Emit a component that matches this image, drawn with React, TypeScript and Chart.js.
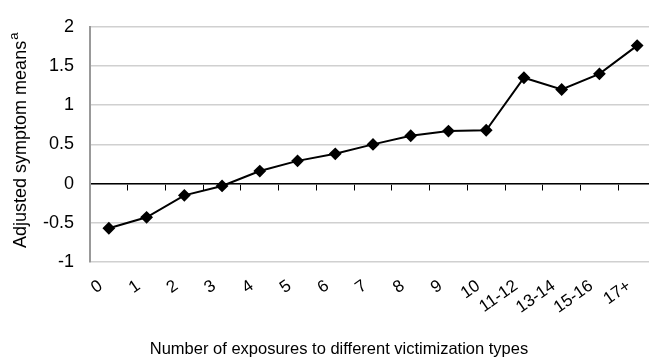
import React, { useEffect, useRef } from 'react';
import { Chart, registerables } from 'chart.js';

Chart.register(...registerables);

const categories = ['0', '1', '2', '3', '4', '5', '6', '7', '8', '9', '10', '11-12', '13-14', '15-16', '17+'];
const symptomMeans = [-0.57, -0.43, -0.15, -0.03, 0.16, 0.29, 0.38, 0.5, 0.61, 0.67, 0.68, 1.35, 1.2, 1.4, 1.76];
const yMin = -1;
const yMax = 2;
const yStep = 0.5;
const xTitle = 'Number of exposures to different victimization types';
const yTitle = 'Adjusted symptom means';
const yTitleSup = 'a';

const FONT = "'Liberation Sans', Arial, sans-serif";

const titlesPlugin = {
  id: 'axisTitles',
  afterDraw(chart: any) {
    const { ctx, chartArea } = chart;
    ctx.save();
    ctx.fillStyle = '#000';
    ctx.font = `16.5px ${FONT}`;
    ctx.textAlign = 'center';
    ctx.textBaseline = 'alphabetic';
    ctx.fillText(xTitle, 339, 354);

    const cy = (chartArea.top + chartArea.bottom) / 2;
    ctx.translate(26, cy);
    ctx.rotate(-Math.PI / 2);
    ctx.font = `18px ${FONT}`;
    const w = ctx.measureText(yTitle).width;
    ctx.textAlign = 'left';
    ctx.fillText(yTitle, -w / 2, 0);
    ctx.font = `13px ${FONT}`;
    ctx.fillText(yTitleSup, w / 2 + 1, -8);
    ctx.restore();
  },
};

export default function App() {
  const ref = useRef<HTMLCanvasElement | null>(null);

  useEffect(() => {
    if (!ref.current) return;
    const chart = new Chart(ref.current, {
      type: 'line',
      data: {
        labels: categories,
        datasets: [
          {
            data: symptomMeans,
            borderColor: '#000',
            borderWidth: 2,
            pointStyle: 'rectRot',
            pointRadius: 5,
            pointBackgroundColor: '#000',
            pointBorderColor: '#000',
            tension: 0,
            xAxisID: 'x',
            yAxisID: 'y',
          },
        ],
      },
      options: {
        responsive: false,
        animation: false,
        layout: { padding: { top: 20, right: 14, bottom: 0, left: 0 } },
        plugins: { legend: { display: false }, tooltip: { enabled: false } },
        scales: {
          x: {
            type: 'category',
            position: 'bottom',
            offset: true,
            grid: { display: false, drawTicks: false },
            border: { display: false },
            ticks: {
              font: { family: FONT, size: 17 },
              color: '#000',
              maxRotation: 35,
              minRotation: 35,
              padding: 14,
              labelOffset: -8,
              autoSkip: false,
            },
            afterFit: (s: any) => {
              s.height = 99;
            },
          },
          x0: {
            type: 'category',
            position: { y: 0 },
            offset: true,
            grid: { drawOnChartArea: false, drawTicks: true, tickLength: 6, color: '#000', offset: true },
            border: { color: '#000', width: 1.5 },
            ticks: { display: false },
          },
          y: {
            min: yMin,
            max: yMax,
            ticks: {
              stepSize: yStep,
              font: { family: FONT, size: 18 },
              color: '#000',
              padding: 16,
              callback: (v: any) => String(Number(v)),
            },
            grid: { color: '#d0d0d0', lineWidth: 1.5, drawTicks: false },
            border: { color: '#999', width: 2 },
            afterFit: (s: any) => {
              s.width = 90;
            },
          },
        },
      } as any,
      plugins: [titlesPlugin],
    });
    return () => chart.destroy();
  }, []);

  return (
    <div style={{ position: 'fixed', left: 0, top: 0, width: 649, height: 361, overflow: 'hidden', background: '#fff' }}>
      <canvas ref={ref} width={670} height={361} style={{ display: 'block', width: 670, height: 361 }} />
    </div>
  );
}
